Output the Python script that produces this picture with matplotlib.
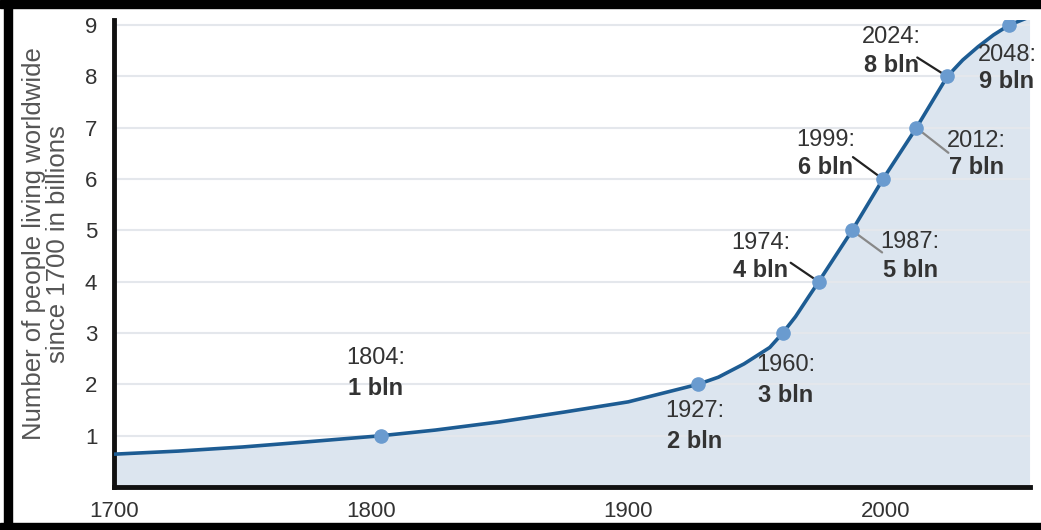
import matplotlib.pyplot as plt
from matplotlib.patches import Rectangle

plt.rcParams["font.family"] = ["Liberation Sans", "DejaVu Sans"]

# curve through the world population (billions)
years = [1700, 1725, 1750, 1775, 1804, 1825, 1850, 1875, 1900, 1927,
         1935, 1945, 1955, 1960, 1965, 1970, 1974, 1987, 1999, 2012,
         2024, 2030, 2036, 2042, 2048, 2056]
population = [0.64, 0.70, 0.78, 0.88, 1.00, 1.11, 1.27, 1.46, 1.66, 2.00,
              2.14, 2.40, 2.72, 3.00, 3.32, 3.70, 4.00, 5.00, 6.00, 7.00,
              8.00, 8.32, 8.58, 8.81, 9.00, 9.16]

# milestones marked on the curve
milestone_years = [1804, 1927, 1960, 1974, 1987, 1999, 2012, 2024, 2048]
milestone_values = [1, 2, 3, 4, 5, 6, 7, 8, 9]
milestone_labels = ["1 bln", "2 bln", "3 bln", "4 bln", "5 bln",
                    "6 bln", "7 bln", "8 bln", "9 bln"]

x_ticks = [1700, 1800, 1900, 2000]
y_ticks = [1, 2, 3, 4, 5, 6, 7, 8, 9]

# label layout in pixels: (dx, dy of year line, dy of value line, leader or None)
label_layout = [
    (-6, 78, 47, None),
    (-3, -27, -57, None),
    (3, -32, -62, None),
    (-58, 39, 11, ((-28, 19), "#222222")),
    (58, -12, -40, ((30, -22), "#888888")),
    (-57, 39, 12, ((-30, 22), "#222222")),
    (60, -13, -40, ((32, -25), "#888888")),
    (-56, 39, 11, ((-30, 19), "#222222")),
    (-2, -30, -56, None),
]

LINE = "#1d5c93"
MARKER = "#6a9bcf"
FILL = "#dce5ef"
TEXT = "#333333"
FS = 17

fig = plt.figure(figsize=(10.41, 5.30), dpi=100)
ax = fig.add_axes([0.1095, 0.0811, 0.8795, 0.8811])

ax.fill_between(years, population, 0, color=FILL, zorder=1, lw=0)
for y in y_ticks:
    ax.axhline(y, color="#e4e7ec", lw=1.5, zorder=1.5)
ax.plot(years, population, color=LINE, lw=2.6, zorder=3,
        solid_capstyle="round", solid_joinstyle="round")
ax.plot(milestone_years, milestone_values, "o", color=MARKER, ms=9.5, zorder=4)

for yr, val, lab, (dx, dy1, dy2, leader) in zip(
        milestone_years, milestone_values, milestone_labels, label_layout):
    ax.annotate(f"{yr}:", xy=(yr, val), xytext=(dx, dy1), textcoords="offset pixels",
                ha="center", va="center", fontsize=FS, color=TEXT, zorder=5)
    ax.annotate(lab, xy=(yr, val), xytext=(dx, dy2), textcoords="offset pixels",
                ha="center", va="center", fontsize=FS, color=TEXT,
                fontweight="bold", zorder=5)
    if leader is not None:
        (lx, ly), lc = leader
        ax.annotate("", xy=(yr, val), xytext=(lx, ly), textcoords="offset pixels",
                    arrowprops=dict(arrowstyle="-", color=lc, lw=1.6,
                                    shrinkA=0, shrinkB=4.5), zorder=3.5)

ax.set_xlim(1700, 2056)
ax.set_ylim(0, 9.1)
ax.set_xticks(x_ticks)
ax.set_yticks(y_ticks)
ax.tick_params(length=0, labelsize=16, labelcolor=TEXT, pad=10)
ax.tick_params(axis="y", pad=12)
for s in ["top", "right"]:
    ax.spines[s].set_visible(False)
for s in ["left", "bottom"]:
    ax.spines[s].set_linewidth(3.5)
    ax.spines[s].set_color("#111111")
    ax.spines[s].set_capstyle("projecting")

fig.text(0.044, 0.54, "Number of people living worldwide\nsince 1700 in billions",
         rotation=90, ha="center", va="center", fontsize=18.5, color="#555555",
         linespacing=1.0)

# black frame around the picture (top, left, bottom)
fig.patches.append(Rectangle((0, 1 - 8 / 530), 1, 8 / 530, transform=fig.transFigure,
                             color="black", zorder=10))
fig.patches.append(Rectangle((4 / 1041, 0), 8 / 1041, 1, transform=fig.transFigure,
                             color="black", zorder=10))
fig.patches.append(Rectangle((0, 0), 1, 7 / 530, transform=fig.transFigure,
                             color="black", zorder=10))

fig.savefig("out.png", dpi=100)
